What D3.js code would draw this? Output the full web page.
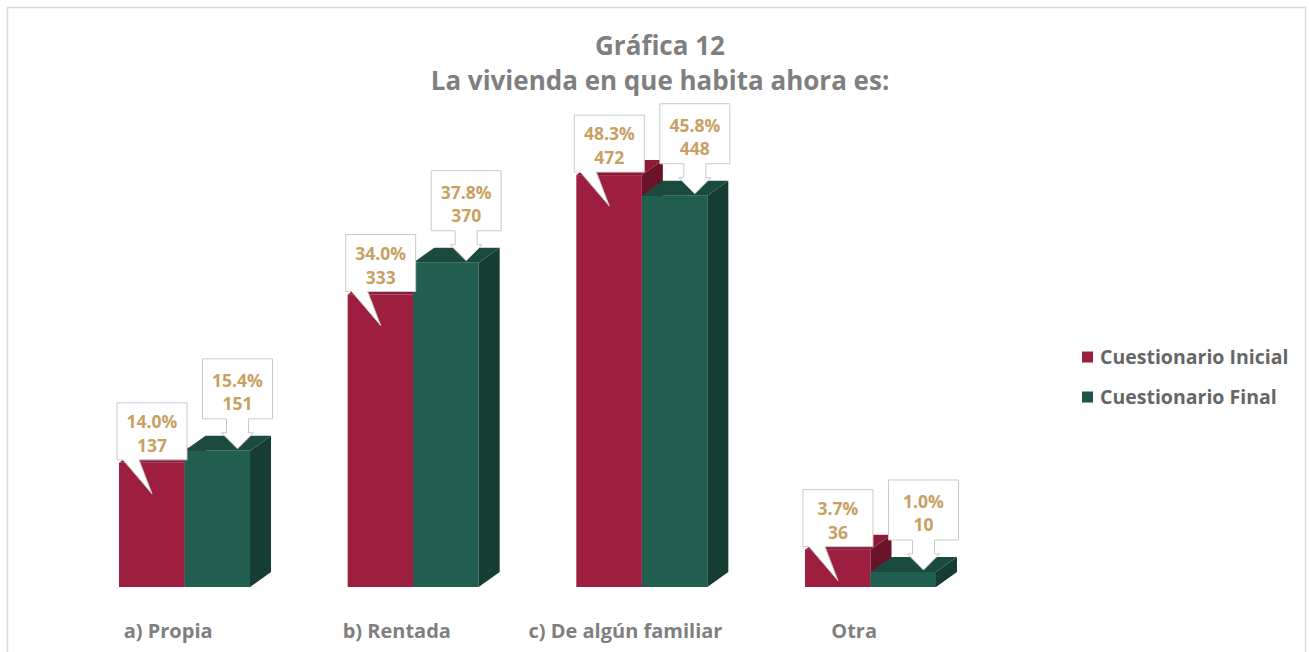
<!DOCTYPE html>
<html><head><meta charset="utf-8">
<script src="https://cdn.jsdelivr.net/npm/d3@7"></script>
<style>html,body{margin:0;padding:0;background:#fff;}svg{display:block;font-family:"Open Sans",sans-serif;}</style>
</head><body>
<svg id="c" width="1309" height="652"></svg>
<script>
const categories = ["a) Propia", "b) Rentada", "c) De algún familiar", "Otra"];
const seriesNames = ["Cuestionario Inicial", "Cuestionario Final"];
const inicialValues = [137, 333, 472, 36];
const finalValues = [151, 370, 448, 10];
const inicialPct = ["14.0%", "34.0%", "48.3%", "3.7%"];
const finalPct = ["15.4%", "37.8%", "45.8%", "1.0%"];
const titleLines = ["Gráfica 12", "La vivienda en que habita ahora es:"];

const colors = {
  front: ["#9d1e3f", "#225e4f"],
  side: ["#6a1228", "#163c33"],
  top: ["#8c1a39", "#1b4b3f"],
  legend: ["#9d1e3f", "#1f5345"]
};

const svg = d3.select("#c");
svg.append("rect").attr("x", 7.5).attr("y", 7.5).attr("width", 1298).attr("height", 670)
  .attr("fill", "#fff").attr("stroke", "#dadada").attr("stroke-width", 1.5);

// title
svg.append("text").attr("x", 660).attr("y", 55).attr("text-anchor", "middle")
  .attr("font-size", 26).attr("font-weight", 700).attr("fill", "#7f7f7f").text(titleLines[0]);
svg.append("text").attr("x", 660).attr("y", 90).attr("text-anchor", "middle")
  .attr("font-size", 26).attr("font-weight", 700).attr("fill", "#7f7f7f").text(titleLines[1]);

const floorY = 587;
const x = d3.scaleBand().domain(categories).range([119, 936]).paddingInner(0.427).paddingOuter(0);
const xs = d3.scaleBand().domain(seriesNames).range([0, x.bandwidth()]).padding(0);
const y = d3.scaleLinear().domain([-7.5, 480]).range([floorY, floorY - 0.859 * 487.5]);
const dx = 21, dy = -15;

const data = categories.map((c, i) => ({
  cat: c,
  vals: [
    { s: 0, v: inicialValues[i], pct: inicialPct[i] },
    { s: 1, v: finalValues[i], pct: finalPct[i] }
  ]
}));

const g = svg.append("g");
data.forEach(d => {
  d.vals.forEach(b => {
    const x0 = x(d.cat) + xs(seriesNames[b.s]);
    const w = xs.bandwidth();
    const yt = y(b.v), yb = y(-7.5);
    g.append("rect").attr("x", x0).attr("y", yt).attr("width", w).attr("height", yb - yt)
      .attr("fill", colors.front[b.s]);
    g.append("path").attr("d", `M${x0 + w},${yt}L${x0 + w + dx},${yt + dy}L${x0 + w + dx},${yb + dy}L${x0 + w},${yb}Z`)
      .attr("fill", colors.side[b.s]);
    g.append("path").attr("d", `M${x0},${yt}L${x0 + w},${yt}L${x0 + w + dx},${yt + dy}L${x0 + dx},${yt + dy}Z`)
      .attr("fill", colors.top[b.s]);
    b.x0 = x0; b.yt = yt; b.w = w;
  });
});

// callouts
const lab = svg.append("g");
data.forEach(d => {
  d.vals.forEach(b => {
    let path, cx, t1, t2;
    if (b.s === 0) {
      const L = b.x0 - 2, R = b.x0 + 68, T = b.yt - 60, B = b.yt - 3;
      const tipX = b.x0 + 33, tipY = b.yt + 31;
      path = `M${L},${T}H${R}V${B}H${b.x0 + 20}L${tipX},${tipY}L${b.x0 + 4},${B}H${L}Z`;
      cx = b.x0 + 33; t1 = b.yt - 35; t2 = b.yt - 11;
    } else {
      const L = b.x0 + 18, R = b.x0 + 88, T = b.yt - 92, B = b.yt - 32;
      const mx = b.x0 + 53, tipY = b.yt - 2, headY = b.yt - 18;
      path = `M${L},${T}H${R}V${B}H${mx + 11}V${headY}H${mx + 16}L${mx},${tipY}L${mx - 16},${headY}H${mx - 11}V${B}H${L}Z`;
      cx = b.x0 + 53; t1 = b.yt - 64; t2 = b.yt - 41;
    }
    lab.append("path").attr("d", path).attr("fill", "#fff").attr("stroke", "#c9c9c9").attr("stroke-width", 1);
    lab.append("text").attr("x", cx).attr("y", t1).attr("text-anchor", "middle")
      .attr("font-size", 17.5).attr("font-weight", 700).attr("fill", "#c8a062").text(b.pct);
    lab.append("text").attr("x", cx).attr("y", t2).attr("text-anchor", "middle")
      .attr("font-size", 17.5).attr("font-weight", 700).attr("fill", "#c8a062").text(b.v);
  });
});

// category labels
svg.append("g").selectAll("text").data(categories).join("text")
  .attr("x", c => x(c) + x.bandwidth() * 0.375).attr("y", 638).attr("text-anchor", "middle")
  .attr("font-size", 20).attr("font-weight", 700).attr("fill", "#7f7f7f").text(c => c);

// legend
const leg = svg.append("g").attr("transform", "translate(1082,0)");
seriesNames.forEach((s, i) => {
  const yy = 357 + i * 40;
  leg.append("rect").attr("x", 0).attr("y", yy - 5.5).attr("width", 11).attr("height", 11).attr("fill", colors.legend[i]);
  leg.append("text").attr("x", 18).attr("y", yy + 7).attr("font-size", 19.5).attr("font-weight", 700)
    .attr("fill", "#666").text(s);
});
</script>
</body></html>
